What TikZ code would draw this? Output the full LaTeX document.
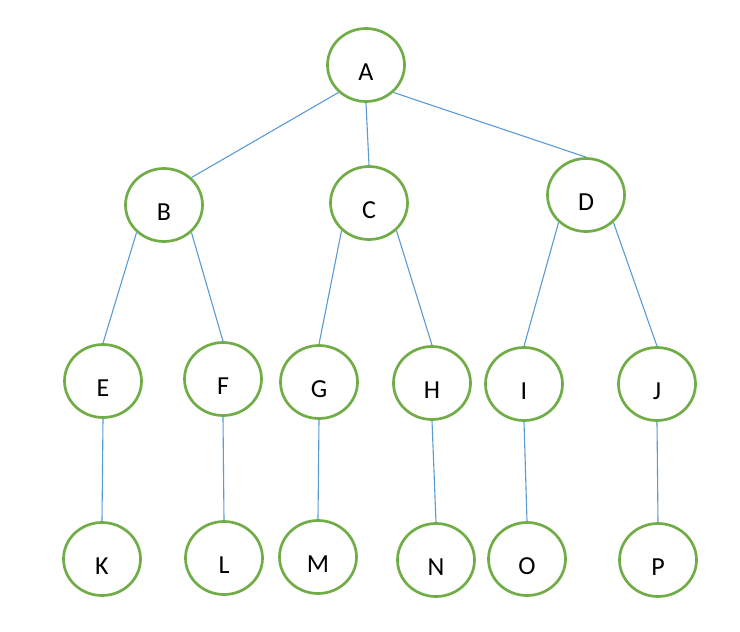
\documentclass[tikz,border=0pt]{standalone}
\usepackage{fontspec}
\setmainfont{Carlito}
\usetikzlibrary{shapes.geometric}
\definecolor{nodegreen}{HTML}{70AD47}
\definecolor{edgeblue}{HTML}{5B9BD5}
\begin{document}
\begin{tikzpicture}[x=1pt,y=-1pt,
  treenode/.style={ellipse,draw=nodegreen,line width=2.7pt,fill=white,
    minimum width=77pt,minimum height=73pt,inner sep=0pt,
    font=\fontsize{26}{31}\selectfont,text height=31pt,text depth=0pt},
  edge/.style={draw=edgeblue,line width=1.1pt}]
\useasboundingbox[fill=white] (0,0) rectangle (740,632);
\node[treenode] (A) at (366,65) {A};
\node[treenode] (B) at (164,205) {B};
\node[treenode] (C) at (369,203) {C};
\node[treenode] (D) at (586,195) {D};
\node[treenode] (E) at (103,381) {E};
\node[treenode] (F) at (223,379) {F};
\node[treenode] (G) at (319,382) {G};
\node[treenode] (H) at (432,383) {H};
\node[treenode] (I) at (524,384) {I};
\node[treenode] (J) at (657,384) {J};
\node[treenode] (K) at (102,559) {K};
\node[treenode] (L) at (224,558) {L};
\node[treenode] (M) at (318,557) {M};
\node[treenode] (N) at (436,560) {N};
\node[treenode] (O) at (527,559) {O};
\node[treenode] (P) at (658,560) {P};
\draw[edge] (A.225) -- (B.45);
\draw[edge] (A.south) -- (C.north);
\draw[edge] (A.315) -- (D.north);
\draw[edge] (B.225) -- (E.north);
\draw[edge] (B.315) -- (F.north);
\draw[edge] (C.225) -- (G.north);
\draw[edge] (C.315) -- (H.north);
\draw[edge] (D.225) -- (I.north);
\draw[edge] (D.315) -- (J.north);
\draw[edge] (E.south) -- (K.north);
\draw[edge] (F.south) -- (L.north);
\draw[edge] (G.south) -- (M.north);
\draw[edge] (H.south) -- (N.north);
\draw[edge] (I.south) -- (O.north);
\draw[edge] (J.south) -- (P.north);
\end{tikzpicture}
\end{document}
